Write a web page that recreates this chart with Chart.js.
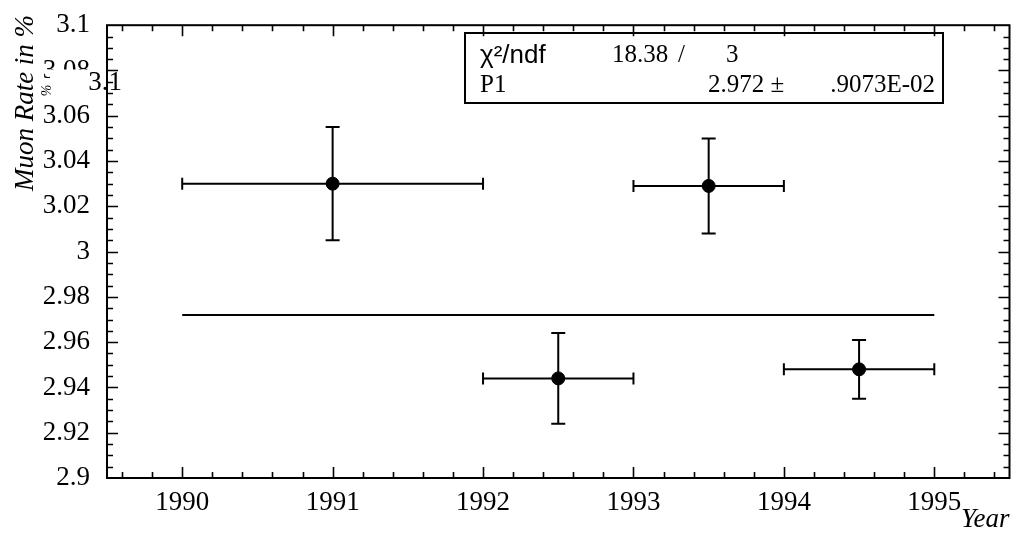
<!DOCTYPE html>
<html>
<head>
<meta charset="utf-8">
<title>Muon rate per year</title>
<script src="https://cdn.jsdelivr.net/npm/chart.js@4/dist/chart.umd.min.js"></script>
<style>
  html, body { margin: 0; padding: 0; background: #fff; }
</style>
</head>
<body>
<canvas id="muonChart" width="1017" height="537"></canvas>
<script>
// measured points: bin centre, half bin width, rate, error
const years = [1991, 1992.5, 1993.5, 1994.5];
const yearHalfWidth = [1, 0.5, 0.5, 0.5];
const muonRate = [3.030, 2.944, 3.029, 2.948];
const rateError = [0.025, 0.020, 0.021, 0.013];

// constant fit P1 over the full range
const fitYears = [1990, 1995];
const fitRate = [2.972, 2.972];

const xTickLabels = [1990, 1991, 1992, 1993, 1994, 1995];
const yTickLabels = [2.9, 2.92, 2.94, 2.96, 2.98, 3, 3.02, 3.04, 3.06, 3.08, 3.1];

const statRows = [
  ['χ²/ndf', '18.38', '/', '3'],
  ['P1', '2.972 ±', '', '.9073E-02']
];

const SERIF = '"Liberation Serif", "DejaVu Serif", serif';
const SANS = '"Liberation Sans", "DejaVu Sans", sans-serif';

// frame with inward ticks on all four sides, axis title and fit box
const frameTicks = {
  id: 'frameTicks',
  afterDraw(chart) {
    const { ctx, chartArea: a, scales: { x, y } } = chart;
    ctx.save();
    ctx.strokeStyle = '#000';
    ctx.lineWidth = 2;
    ctx.strokeRect(a.left, a.top, a.right - a.left, a.bottom - a.top);
    ctx.lineWidth = 1.6;
    ctx.beginPath();
    for (let i = -2; i <= 27; i++) {
      const v = 1990 + i * 0.2;
      if (v <= x.min || v >= x.max) continue;
      const px = Math.round(x.getPixelForValue(v)) + 0.5;
      const len = i % 5 === 0 ? 11 : 6;
      ctx.moveTo(px, a.bottom); ctx.lineTo(px, a.bottom - len);
      ctx.moveTo(px, a.top); ctx.lineTo(px, a.top + len);
    }
    for (let i = 1; i < 40; i++) {
      const v = 2.9 + i * 0.005;
      const py = Math.round(y.getPixelForValue(v)) + 0.5;
      const len = i % 4 === 0 ? 11 : 6;
      ctx.moveTo(a.left, py); ctx.lineTo(a.left + len, py);
      ctx.moveTo(a.right, py); ctx.lineTo(a.right - len, py);
    }
    ctx.stroke();

    // y axis title
    ctx.fillStyle = '#000';
    ctx.save();
    ctx.translate(26, 103);
    ctx.rotate(-Math.PI / 2);
    ctx.font = 'italic 27px ' + SERIF;
    ctx.textAlign = 'center';
    ctx.textBaseline = 'middle';
    ctx.fillText('Muon Rate in %', 0, 0);
    ctx.restore();

    // second "3.1" label pasted over the upper end of the axis
    const y308 = y.getPixelForValue(3.08);
    ctx.fillStyle = '#fff';
    ctx.fillRect(50, y308 - 1, a.left - 52, 18);
    ctx.fillStyle = '#000';
    ctx.font = '27px ' + SERIF;
    ctx.textAlign = 'right';
    ctx.textBaseline = 'middle';
    ctx.fillText('3.1', a.left + 15, y308 + 12);
    ctx.save();
    ctx.translate(47, y308 + 20);
    ctx.rotate(-Math.PI / 2);
    ctx.font = 'italic 14px ' + SERIF;
    ctx.textAlign = 'center';
    ctx.fillText('%', 0, 0);
    ctx.restore();

    // fit statistics box
    const bx = 465, by = 33, bw = 478, bh = 70;
    ctx.lineWidth = 2;
    ctx.strokeRect(bx, by, bw, bh);
    ctx.textBaseline = 'alphabetic';
    ctx.textAlign = 'left';
    ctx.font = '26px ' + SANS;
    ctx.fillText(statRows[0][0], bx + 15, by + 30);
    ctx.font = '25px ' + SERIF;
    ctx.fillText(statRows[0][1], bx + 147, by + 29);
    ctx.fillText(statRows[0][2], bx + 213, by + 29);
    ctx.fillText(statRows[0][3], bx + 261, by + 29);
    ctx.fillText(statRows[1][0], bx + 15, by + 59);
    ctx.fillText(statRows[1][1], bx + 243, by + 59);
    ctx.textAlign = 'right';
    ctx.fillText(statRows[1][3], bx + bw - 8, by + 59);
    ctx.restore();
  }
};

// horizontal bin widths and vertical errors with end caps
const errorBars = {
  id: 'errorBars',
  afterDatasetsDraw(chart) {
    const { ctx, scales: { x, y } } = chart;
    ctx.save();
    ctx.strokeStyle = '#000';
    ctx.lineWidth = 2;
    ctx.beginPath();
    years.forEach((yr, i) => {
      const cx = x.getPixelForValue(yr);
      const cy = y.getPixelForValue(muonRate[i]);
      const x0 = x.getPixelForValue(yr - yearHalfWidth[i]);
      const x1 = x.getPixelForValue(yr + yearHalfWidth[i]);
      const y0 = y.getPixelForValue(muonRate[i] + rateError[i]);
      const y1 = y.getPixelForValue(muonRate[i] - rateError[i]);
      ctx.moveTo(x0, cy); ctx.lineTo(x1, cy);
      ctx.moveTo(x0, cy - 6); ctx.lineTo(x0, cy + 6);
      ctx.moveTo(x1, cy - 6); ctx.lineTo(x1, cy + 6);
      ctx.moveTo(cx, y0); ctx.lineTo(cx, y1);
      ctx.moveTo(cx - 7, y0); ctx.lineTo(cx + 7, y0);
      ctx.moveTo(cx - 7, y1); ctx.lineTo(cx + 7, y1);
    });
    ctx.stroke();
    ctx.restore();
  }
};

new Chart(document.getElementById('muonChart'), {
  type: 'scatter',
  data: {
    datasets: [
      {
        label: 'Muon rate',
        data: years.map((yr, i) => ({ x: yr, y: muonRate[i] })),
        backgroundColor: '#000',
        borderColor: '#000',
        pointRadius: 6.5,
        pointHoverRadius: 6.5
      },
      {
        label: 'Fit',
        type: 'line',
        data: fitYears.map((yr, i) => ({ x: yr, y: fitRate[i] })),
        borderColor: '#000',
        borderWidth: 2,
        pointRadius: 0,
        fill: false
      }
    ]
  },
  options: {
    responsive: false,
    animation: false,
    events: [],
    layout: { padding: { top: 18, right: 2, left: 0, bottom: 0 } },
    plugins: { legend: { display: false }, tooltip: { enabled: false } },
    scales: {
      x: {
        type: 'linear',
        min: 1989.5,
        max: 1995.5,
        afterBuildTicks: s => { s.ticks = xTickLabels.map(v => ({ value: v })); },
        afterFit: s => { s.height = 59; },
        grid: { display: false },
        border: { display: false },
        ticks: {
          color: '#000',
          padding: 1,
          maxRotation: 0,
          font: { family: SERIF, size: 27 },
          callback: v => String(v)
        },
        title: {
          display: true,
          text: 'Year',
          align: 'end',
          color: '#000',
          padding: { top: 0, bottom: 1 },
          font: { family: SERIF, size: 27, style: 'italic' }
        }
      },
      y: {
        min: 2.9,
        max: 3.1,
        afterBuildTicks: s => { s.ticks = yTickLabels.map(v => ({ value: v })); },
        afterFit: s => { s.width = 107; },
        grid: { display: false },
        border: { display: false },
        ticks: {
          color: '#000',
          padding: 9,
          font: { family: SERIF, size: 27 },
          callback: v => String(v)
        },
        title: { display: false }
      }
    }
  },
  plugins: [errorBars, frameTicks]
});
</script>
</body>
</html>
